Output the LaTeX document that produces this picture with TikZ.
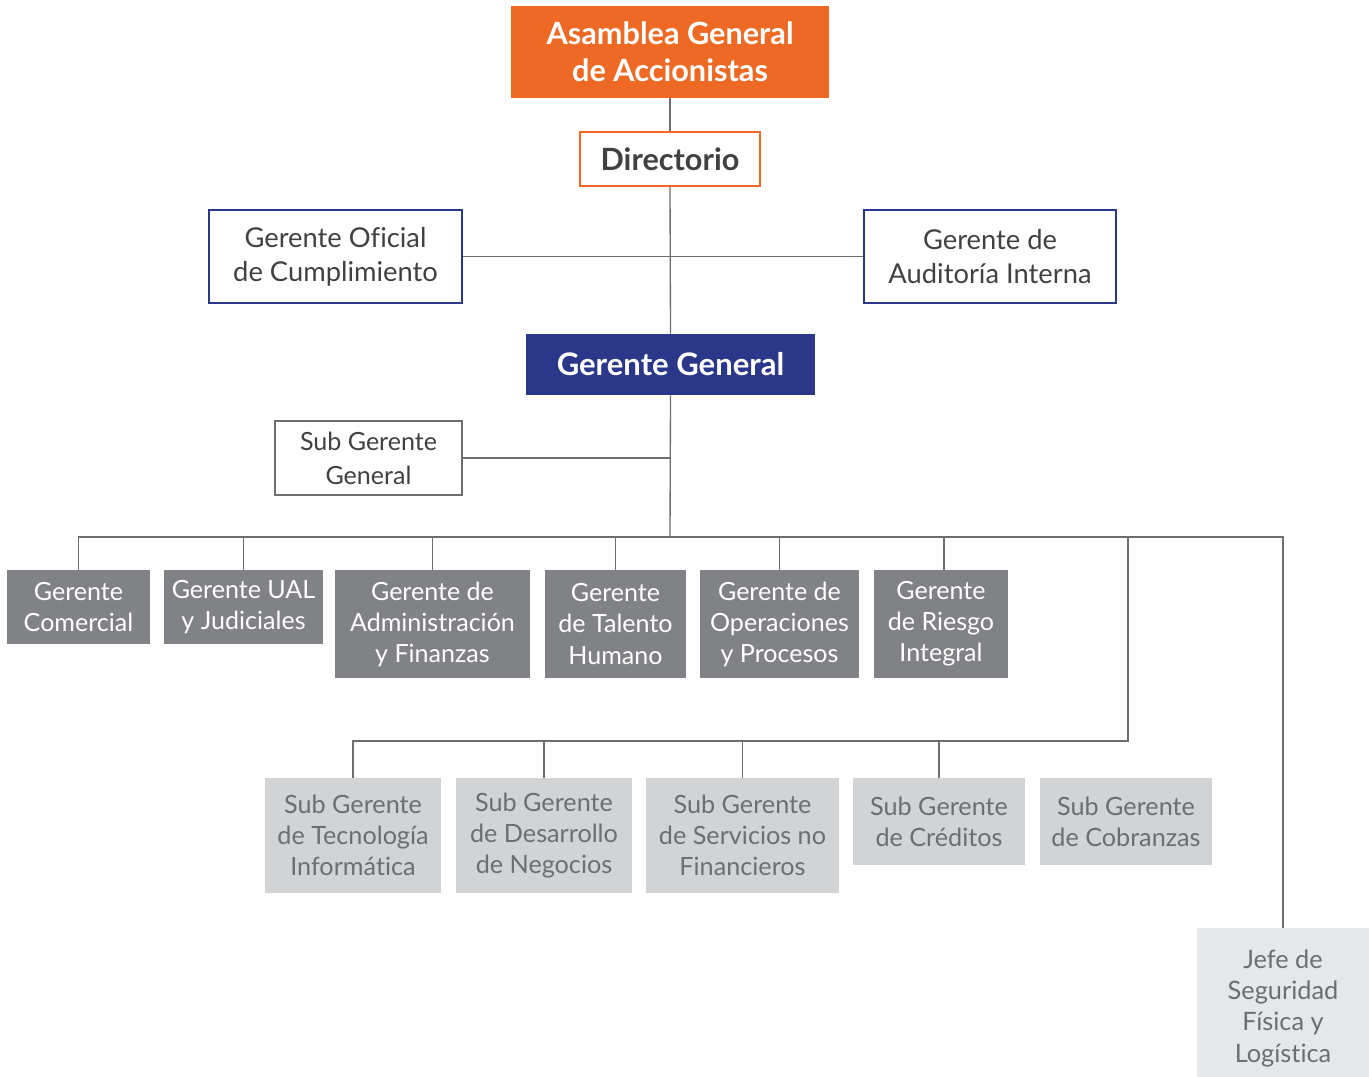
\documentclass[tikz,border=0pt]{standalone}
\usepackage{fontspec}
\setmainfont{Lato}[Ligatures={NoCommon}]
\definecolor{orangeA}{HTML}{EE6A24}
\definecolor{blueA}{HTML}{2B3788}
\definecolor{grayA}{HTML}{808285}
\definecolor{grayB}{HTML}{D1D3D4}
\definecolor{grayC}{HTML}{E6E7E8}
\definecolor{txtA}{HTML}{414042}
\definecolor{txtB}{HTML}{6D6E71}
\definecolor{lineA}{HTML}{6D6E71}
\newcommand{\obox}[7]{\node[inner sep=0pt, align=center, #6,
  minimum width={(#4-#2)*0.75pt}, minimum height={(#5-#3)*0.75pt}]
  (#1) at ({(#2+#4)/2},{(#3+#5)/2}) {#7};}
\tikzset{
  headbox/.style={fill=orangeA, text=white, font=\fontsize{23}{27.5}\selectfont\bfseries},
  dirbox/.style={draw=orangeA, line width=1.6pt, fill=white, text=txtA, font=\fontsize{23}{27}\selectfont\bfseries},
  bluebox/.style={draw=blueA, line width=1.6pt, fill=white, text=txtA, font=\fontsize{20.5}{25.5}\selectfont},
  ggbox/.style={fill=blueA, text=white, font=\fontsize{23.3}{27}\selectfont\bfseries},
  sgbox/.style={draw=lineA, line width=1.6pt, fill=white, text=txtA, font=\fontsize{18.8}{25.5}\selectfont},
  midbox/.style={fill=grayA, text=white, font=\fontsize{18.8}{23.3}\selectfont},
  lowbox/.style={fill=grayB, text=txtB, font=\fontsize{18.9}{23.3}\selectfont},
  jefebox/.style={fill=grayC, text=txtB, font=\fontsize{19}{23.5}\selectfont},
  conn/.style={draw=lineA, line width=1pt},
}
\begin{document}
\begin{tikzpicture}[x=0.75pt,y=-0.75pt]
\useasboundingbox[fill=white] (0,0) rectangle (1371,1077);
\coordinate (bus) at (670,537);
\coordinate (busR) at (1128,537);
\coordinate (busL2) at (1128,741);
\obox{asamblea}{511}{6}{829}{98}{headbox}{Asamblea General\\de Accionistas}
\obox{directorio}{580}{132}{760}{186}{dirbox}{Directorio}
\obox{oficial}{209}{210}{462}{303}{bluebox}{Gerente Oficial\\de Cumplimiento}
\obox{auditoria}{864}{210}{1116}{303}{bluebox}{Gerente de\\Auditoría Interna}
\obox{gg}{526}{334}{815}{395}{ggbox}{Gerente General}
\obox{sgg}{275}{421}{462}{495}{sgbox}{Sub Gerente\\General}
\obox{com}{7}{570}{150}{644}{midbox}{Gerente\\Comercial}
\obox{ual}{164}{570}{323}{644}{midbox}{Gerente UAL\\y Judiciales}
\obox{adm}{335}{570}{530}{678}{midbox}{Gerente de\\Administración\\y Finanzas}
\obox{tal}{545}{570}{686}{678}{midbox}{Gerente\\de Talento\\Humano}
\obox{ope}{700}{570}{859}{678}{midbox}{Gerente de\\Operaciones\\y Procesos}
\obox{rie}{874}{570}{1008}{678}{midbox}{Gerente\\de Riesgo\\Integral}
\obox{tec}{265}{778}{441}{893}{lowbox}{Sub Gerente\\de Tecnología\\Informática}
\obox{des}{456}{778}{632}{893}{lowbox}{Sub Gerente\\de Desarrollo\\de Negocios}
\obox{ser}{646}{778}{839}{893}{lowbox}{Sub Gerente\\de Servicios no\\Financieros}
\obox{cre}{853}{778}{1025}{865}{lowbox}{Sub Gerente\\de Créditos}
\obox{cob}{1040}{778}{1212}{865}{lowbox}{Sub Gerente\\de Cobranzas}
\obox{jefe}{1197}{928}{1369}{1088}{jefebox}{Jefe de\\Seguridad\\Física y\\Logística}
\draw[conn] (asamblea.south) -- (directorio.north);
\draw[conn] (directorio.south) -- (gg.north);
\draw[conn] (oficial.east) -- (auditoria.west);
\draw[conn] (sgg.east) -- (sgg.east -| gg.south);
\draw[conn] (gg.south) -- (bus);
\draw[conn] (com.north) -- (com.north |- bus) -- (jefe.north |- bus) -- (jefe.north);
\draw[conn] (ual.north) -- (ual.north |- bus);
\draw[conn] (adm.north) -- (adm.north |- bus);
\draw[conn] (tal.north) -- (tal.north |- bus);
\draw[conn] (ope.north) -- (ope.north |- bus);
\draw[conn] ([xshift=2.25pt]rie.north) -- ([xshift=2.25pt]rie.north |- bus);
\draw[conn] (busR) -- (busL2) -- (tec.north |- busL2) -- (tec.north);
\draw[conn] (des.north) -- (des.north |- busL2);
\draw[conn] (ser.north) -- (ser.north |- busL2);
\draw[conn] (cre.north) -- (cre.north |- busL2);
\end{tikzpicture}
\end{document}
